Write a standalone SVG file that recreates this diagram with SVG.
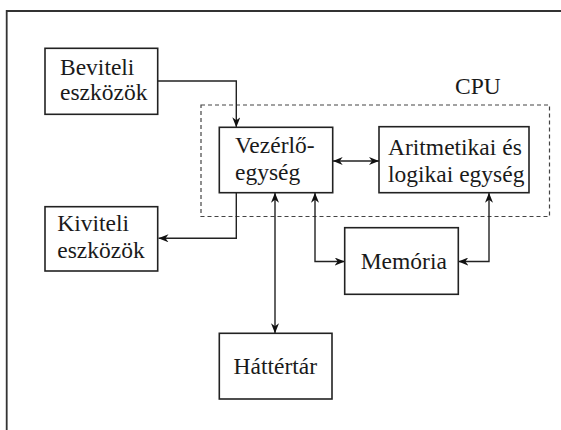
<svg xmlns="http://www.w3.org/2000/svg" width="561" height="430" viewBox="0 0 561 430">
<defs>
<marker id="ah" viewBox="0 0 10 8" refX="10" refY="4" markerWidth="10" markerHeight="8" markerUnits="userSpaceOnUse" orient="auto-start-reverse">
<path d="M0,0 L10,4 L0,8 L3,4 Z" fill="#111"/>
</marker>
<style>
.box{fill:#fff;stroke:#222;stroke-width:1.6}
.t{font-family:'Liberation Serif','Times New Roman',serif;font-size:23.5px;fill:#1a1a1a}
.c{fill:none;stroke:#222;stroke-width:1.4}
</style>
</defs>
<rect width="561" height="430" fill="#fff"/>
<path d="M6.7,430 L6.7,11 L561,11" fill="none" stroke="#333" stroke-width="1.8"/>
<g id="cpu">
<rect x="201" y="105" width="348.5" height="111.5" fill="none" stroke="#444" stroke-width="1.2" stroke-dasharray="4,3"/>
<text class="t" x="455" y="94">CPU</text>
</g>
<g id="connectors">
<path class="c" d="M157.7,81 L236.3,81 L236.3,127.3" marker-end="url(#ah)"/>
<path class="c" d="M332.7,161 L379,161" marker-start="url(#ah)" marker-end="url(#ah)"/>
<path class="c" d="M236.3,192.7 L236.3,238.3 L158.5,238.3" marker-end="url(#ah)"/>
<path class="c" d="M275,192.7 L275,333.3" marker-start="url(#ah)" marker-end="url(#ah)"/>
<path class="c" d="M315,192.7 L315,261.5 L344.7,261.5" marker-start="url(#ah)" marker-end="url(#ah)"/>
<path class="c" d="M489,192.7 L489,261.5 L458.3,261.5" marker-start="url(#ah)" marker-end="url(#ah)"/>
</g>
<g id="beviteli">
<rect class="box" x="45" y="48.3" width="112.7" height="66"/>
<text class="t" x="60" y="75">Beviteli</text>
<text class="t" x="60" y="100">eszközök</text>
</g>
<g id="vezerlo">
<rect class="box" x="219.3" y="127.3" width="113.4" height="65.4"/>
<text class="t" x="235" y="153">Vezérlő-</text>
<text class="t" x="235" y="180">egység</text>
</g>
<g id="alu">
<rect class="box" x="379" y="126.7" width="150" height="66"/>
<text class="t" x="388" y="155">Aritmetikai és</text>
<text class="t" x="388" y="181.5">logikai egység</text>
</g>
<g id="kiviteli">
<rect class="box" x="45" y="206.7" width="112.7" height="64.3"/>
<text class="t" x="57.3" y="231">Kiviteli</text>
<text class="t" x="57.3" y="258">eszközök</text>
</g>
<g id="memoria">
<rect class="box" x="344.7" y="227.7" width="113.6" height="66.6"/>
<text class="t" x="403.8" y="269" text-anchor="middle">Memória</text>
</g>
<g id="hattertar">
<rect class="box" x="219.3" y="333.3" width="112.7" height="65.7"/>
<text class="t" x="275.3" y="374" text-anchor="middle">Háttértár</text>
</g>
</svg>
